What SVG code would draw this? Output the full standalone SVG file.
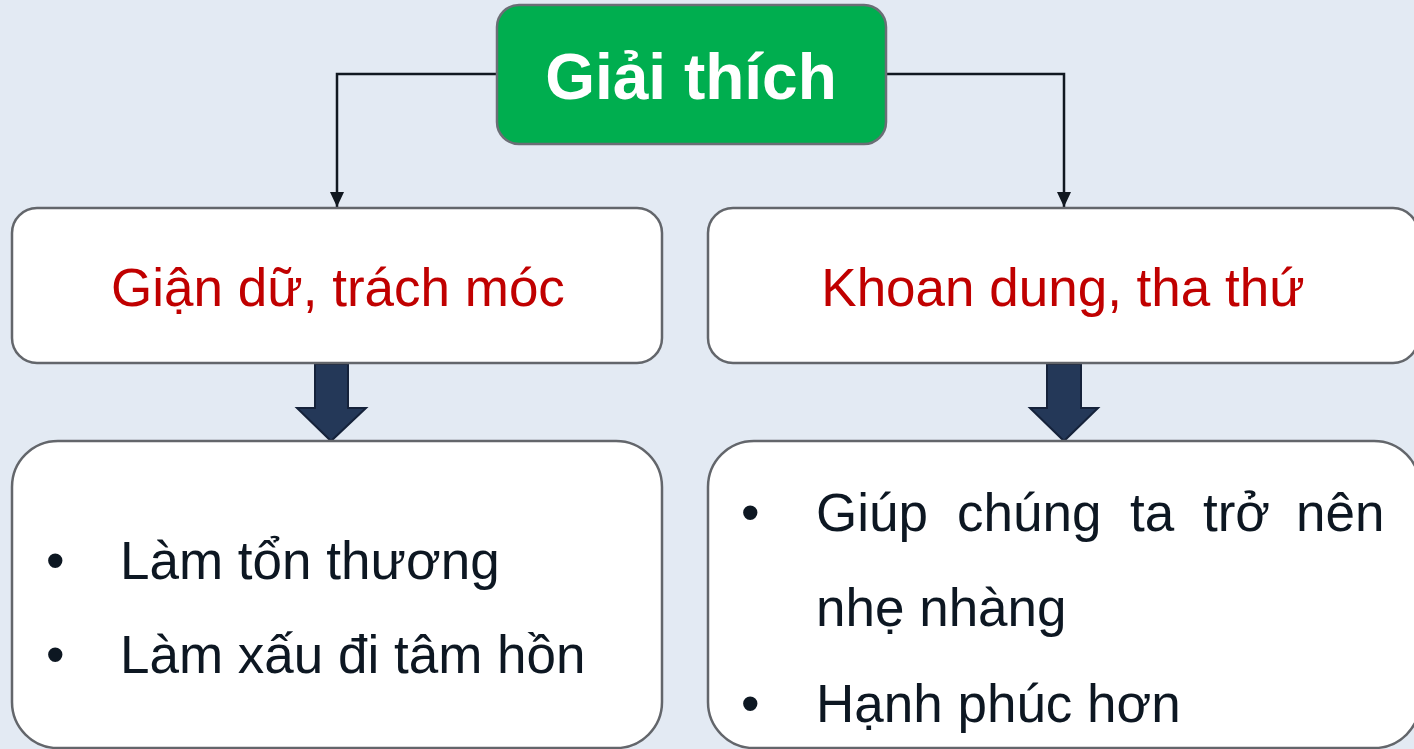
<svg xmlns="http://www.w3.org/2000/svg" width="1414" height="749" viewBox="0 0 1414 749">
<defs>
<style>
.box{fill:#ffffff;stroke:#63666b;stroke-width:2.5}
.head{fill:#00ae4f;stroke:#6b6e75;stroke-width:2.5}
.conn{fill:none;stroke:#111820;stroke-width:2.5}
.blk{fill:#243858;stroke:#15223a;stroke-width:2}
.t{font-family:"Liberation Sans",Arial,sans-serif}
.title{font-size:64px;font-weight:bold;fill:#ffffff}
.red{font-size:53px;fill:#c00000}
.body{font-size:53px;fill:#0d1722}
</style>
<marker id="arrow" viewBox="0 0 15 14" refX="15" refY="7" markerWidth="15" markerHeight="14" markerUnits="userSpaceOnUse" orient="auto">
<path d="M0,0 L15,7 L0,14 z" fill="#111820"/>
</marker>
</defs>
<rect width="1414" height="749" fill="#e3eaf3"/>
<g id="connectors">
<path class="conn" d="M497,74 H337 V207" marker-end="url(#arrow)"/>
<path class="conn" d="M886,74 H1064 V207" marker-end="url(#arrow)"/>
<path class="blk" d="M315,364 H348 V408 H366 L331,441 L297,408 H315 Z"/>
<path class="blk" d="M1047,364 H1081 V408 H1098 L1064,441 L1030,408 H1047 Z"/>
</g>
<g id="node-giai-thich">
<rect class="head" x="497" y="5" width="389" height="139" rx="22"/>
<text class="t title" x="691" y="99" text-anchor="middle">Giải thích</text>
</g>
<g id="node-gian-du">
<rect class="box" x="12" y="208" width="650" height="155" rx="25"/>
<text class="t red" x="338" y="306" text-anchor="middle">Giận dữ, trách móc</text>
</g>
<g id="node-khoan-dung">
<rect class="box" x="708" y="208" width="710" height="155" rx="25"/>
<text class="t red" x="1063" y="306" text-anchor="middle">Khoan dung, tha thứ</text>
</g>
<g id="node-hau-qua">
<rect class="box" x="12" y="441" width="650" height="307" rx="46"/>
<text class="t body" x="46" y="579">•</text>
<text class="t body" x="120" y="579">Làm tổn thương</text>
<text class="t body" x="46" y="673">•</text>
<text class="t body" x="120" y="673">Làm xấu đi tâm hồn</text>
</g>
<g id="node-loi-ich">
<rect class="box" x="708" y="441" width="712" height="307" rx="46"/>
<text class="t body" x="741" y="531">•</text>
<text class="t body" y="531"><tspan x="816">Giúp</tspan><tspan x="957">chúng</tspan><tspan x="1130">ta</tspan><tspan x="1203">trở</tspan><tspan x="1296">nên</tspan></text>
<text class="t body" x="816" y="626">nhẹ nhàng</text>
<text class="t body" x="741" y="722">•</text>
<text class="t body" x="816" y="722">Hạnh phúc hơn</text>
</g>
</svg>
